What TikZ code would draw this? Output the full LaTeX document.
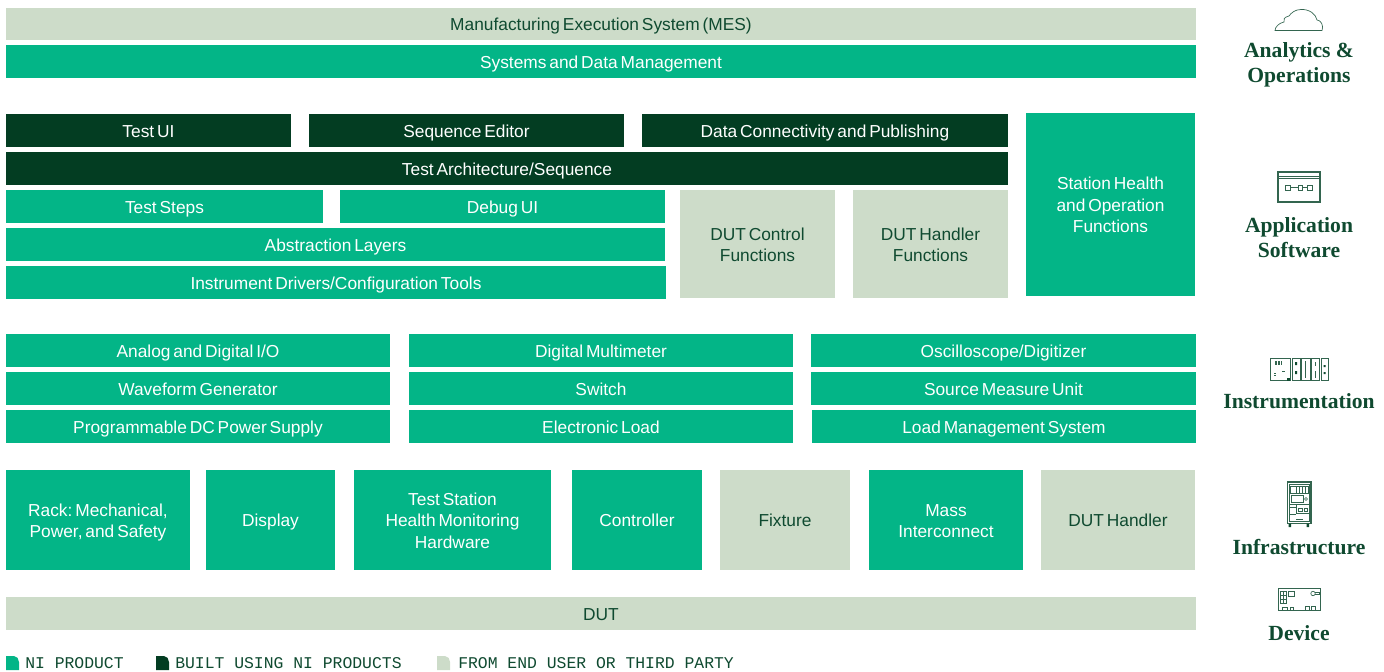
\documentclass[tikz,border=0pt]{standalone}
\usepackage{fontspec}
\setmainfont[WordSpace=0.6]{Liberation Sans}
\newfontfamily\labelfont{Liberation Serif}
\newfontfamily\legendfont{Liberation Mono}
\definecolor{nigreen}{HTML}{03B587}
\definecolor{nidark}{HTML}{033D22}
\definecolor{nilight}{HTML}{CDDCC9}
\definecolor{niink}{HTML}{0F4A30}
\tikzset{
    boxsize/.style 2 args={minimum width=#1*0.75pt, minimum height=#2*0.75pt},
    textlines/.style={execute at begin node=\rule{0pt}{\dimexpr #1\dimexpr 16pt\relax-3pt\relax}},
    box/.style={inner sep=0pt, align=center, font=\fontsize{13}{16}\selectfont,
        textlines=1, execute at end node=\rule[-3pt]{0pt}{3pt}},
    product/.style={box, fill=nigreen, text=white},
    built/.style={box, fill=nidark, text=white},
    third/.style={box, fill=nilight, text=niink},
    layerlabel/.style={align=center, text=niink, font=\labelfont\bfseries\fontsize{16.2}{18.8}\selectfont},
    legendlabel/.style={anchor=west, inner sep=0pt, text=niink, font=\legendfont\fontsize{12.3}{14}\selectfont},
    icon/.style={draw=niink!85, line width=0.5pt}
}
\begin{document}
\begin{tikzpicture}[x=0.75pt, y=-0.75pt]
    \useasboundingbox (0,0) rectangle (1384,671);

    % Analytics and operations
    \node[third, boxsize={1190}{32}] (mes) at (601,24) {Manufacturing Execution System (MES)};
    \node[product, boxsize={1190}{33}] (sdm) at (601,61.5) {Systems and Data Management};

    % Application software
    \node[built, boxsize={285}{33}] (testui) at (148.5,130.5) {Test UI};
    \node[built, boxsize={315}{33}] (seqeditor) at (466.5,130.5) {Sequence Editor};
    \node[built, boxsize={366}{33}] (dataconn) at (825,130.5) {Data Connectivity and Publishing};
    \node[built, boxsize={1002}{33}] (testarch) at (507,168.5) {Test Architecture/Sequence};
    \node[product, boxsize={317}{33}] (teststeps) at (164.5,206.5) {Test Steps};
    \node[product, boxsize={325}{33}] (debugui) at (502.5,206.5) {Debug UI};
    \node[product, boxsize={659}{33}] (abstraction) at (335.5,244.5) {Abstraction Layers};
    \node[product, boxsize={660}{33}] (drivers) at (336,282.5) {Instrument Drivers/Configuration Tools};
    \node[third, textlines=2, boxsize={155}{108}] (dutcontrol) at (757.5,244) {DUT Control\\Functions};
    \node[third, textlines=2, boxsize={155}{108}] (duthandlerfn) at (930.5,244) {DUT Handler\\Functions};
    \node[product, textlines=3, boxsize={169}{183}] (station) at (1110.5,204.5) {Station Health\\and Operation\\Functions};

    % Instrumentation
    \node[product, boxsize={384}{33}] (analog) at (198,350.5) {Analog and Digital I/O};
    \node[product, boxsize={384}{33}] (dmm) at (601,350.5) {Digital Multimeter};
    \node[product, boxsize={385}{33}] (scope) at (1003.5,350.5) {Oscilloscope/Digitizer};
    \node[product, boxsize={384}{33}] (waveform) at (198,388.5) {Waveform Generator};
    \node[product, boxsize={384}{33}] (switch) at (601,388.5) {Switch};
    \node[product, boxsize={385}{33}] (smu) at (1003.5,388.5) {Source Measure Unit};
    \node[product, boxsize={384}{33}] (dcpower) at (198,426.5) {Programmable DC Power Supply};
    \node[product, boxsize={384}{33}] (eload) at (601,426.5) {Electronic Load};
    \node[product, boxsize={384}{33}] (loadmgmt) at (1004,426.5) {Load Management System};

    % Infrastructure
    \node[product, textlines=2, boxsize={184}{100}] (rack) at (98,520) {Rack:\,Mechanical,\\Power, and Safety};
    \node[product, boxsize={129}{100}] (display) at (270.5,520) {Display};
    \node[product, textlines=3, boxsize={197}{100}] (healthhw) at (452.5,520) {Test Station\\Health Monitoring\\Hardware};
    \node[product, boxsize={130}{100}] (controller) at (637,520) {Controller};
    \node[third, boxsize={130}{100}] (fixture) at (785,520) {Fixture};
    \node[product, textlines=2, boxsize={154}{100}] (interconnect) at (946,520) {Mass\\Interconnect};
    \node[third, boxsize={154}{100}] (duthandler) at (1118,520) {DUT Handler};

    % Device
    \node[third, boxsize={1190}{33}] (dut) at (601,613.5) {DUT};

    % Layer labels
    \node[layerlabel] (analytics) at (1299,64.5) {Analytics \&\\Operations};
    \node[layerlabel] (application) at (1299,237.5) {Application\\Software};
    \node[layerlabel] (instrumentation) at (1299,401) {Instrumentation};
    \node[layerlabel] (infrastructure) at (1299,547) {Infrastructure};
    \node[layerlabel] (device) at (1299,633) {Device};

    % Cloud icon
    \draw[icon] (1277,30.5) -- (1322,30.5)
        .. controls (1324,26) and (1321,20) .. (1317,20)
        .. controls (1316,14) and (1309,9) .. (1301,9.5)
        .. controls (1295,9.5) and (1291,13) .. (1289,16)
        .. controls (1284,17) and (1283,20) .. (1284,22)
        .. controls (1279,23) and (1275,27) .. (1275,30.5) -- cycle;

    % Window icon
    \draw[icon, line width=0.8pt] (1278,172) rectangle (1320,202);
    \draw[icon] (1279,176) -- (1319,176) (1279,178) -- (1319,178);
    \draw[icon] (1285,185) rectangle (1290,190) (1298,185) rectangle (1302.5,190) (1307,185) rectangle (1312,190);
    \draw[icon] (1290,187.5) -- (1298,187.5) (1302.5,187.5) -- (1307,187.5);

    % Instrument icon
    \draw[icon, line width=0.7pt] (1270,358.5) rectangle (1290,380.5);
    \draw[icon] (1275,361) -- (1275,364.5) (1276.5,361) -- (1276.5,364.5) (1278,361) -- (1278,364.5) (1279.5,361) -- (1279.5,364.5) (1281,361) -- (1281,364.5);
    \draw[icon] (1274,373) -- (1276,373) (1274,375.5) -- (1276,375.5) (1282,371.5) -- (1285,371.5);
    \fill[niink] (1287,378) rectangle (1290,380.5);
    \foreach \xa/\xb in {1292/1300, 1301.5/1310, 1311/1319, 1321/1328}
        \draw[icon, line width=0.7pt] (\xa,358.5) rectangle (\xb,380.5);
    \fill[niink] (1295,362) rectangle (1297,365) (1295,371) rectangle (1297,374);
    \draw[icon] (1305.5,361) -- (1305.5,378) (1315,362) -- (1315,366) (1315,371) -- (1315,378);
    \fill[niink] (1323.5,365) rectangle (1325.5,367) (1323.5,372) rectangle (1325.5,374);

    % Rack icon
    \draw[icon, line width=0.8pt] (1287.5,482) rectangle (1311,523.5);
    \draw[icon] (1289.5,484) rectangle (1309,521.5);
    \draw[icon] (1290,486) rectangle (1308,493.5);
    \draw[icon] (1296,486) -- (1296,493.5) (1299,486) -- (1299,493.5) (1302,486) -- (1302,493.5) (1305,486) -- (1305,493.5);
    \draw[icon] (1291,495.5) rectangle (1303,502);
    \draw[icon] (1306,499) circle (1.5*0.75pt);
    \draw[icon] (1289.5,504) -- (1309,504) (1289.5,507.5) -- (1296,507.5) (1296,504) -- (1296,513.5) (1296,513.5) -- (1309,513.5) (1289.5,514) -- (1296,514);
    \draw[icon] (1298,508) rectangle (1302,511) (1304,508) rectangle (1307,511);
    \draw[icon] (1296,519) -- (1303,519);
    \fill[niink] (1288.5,523.5) rectangle (1291,527) (1306.5,523.5) rectangle (1309,527);

    % Board icon
    \draw[icon, line width=0.7pt] (1278.5,588.5) rectangle (1320,610.5);
    \draw[icon] (1280,591) rectangle (1283,603) (1283.5,591) rectangle (1286.5,603);
    \draw[icon] (1280,595) -- (1286.5,595) (1280,599) -- (1286.5,599);
    \draw[icon] (1288,591) rectangle (1294,596);
    \draw[icon] (1313,593.5) circle (2.2*0.75pt);
    \draw[icon] (1315,592.5) -- (1319,592.5) -- (1319,594.5) -- (1315,594.5);
    \draw[icon] (1282.5,610) -- (1282.5,607) -- (1287,607) -- (1287,610) (1290,610) -- (1290,607) -- (1293,607) -- (1293,610);
    \draw[icon] (1305,606) rectangle (1309,610) (1311,606) rectangle (1315,610);

    % Legend
    \fill[nigreen] (6,656) -- (14,656) .. controls (17,656) and (19,659) .. (19,662) -- (19,670) -- (6,670) -- cycle;
    \fill[nidark] (156,656) -- (164,656) .. controls (167,656) and (169,659) .. (169,662) -- (169,670) -- (156,670) -- cycle;
    \fill[nilight] (437,656) -- (445,656) .. controls (448,656) and (450,659) .. (450,662) -- (450,670) -- (437,670) -- cycle;
    \node[legendlabel] (legendni) at (25,663.5) {NI PRODUCT};
    \node[legendlabel] (legendbuilt) at (175,663.5) {BUILT USING NI PRODUCTS};
    \node[legendlabel] (legendthird) at (458,663.5) {FROM END USER OR THIRD PARTY};
\end{tikzpicture}
\end{document}
